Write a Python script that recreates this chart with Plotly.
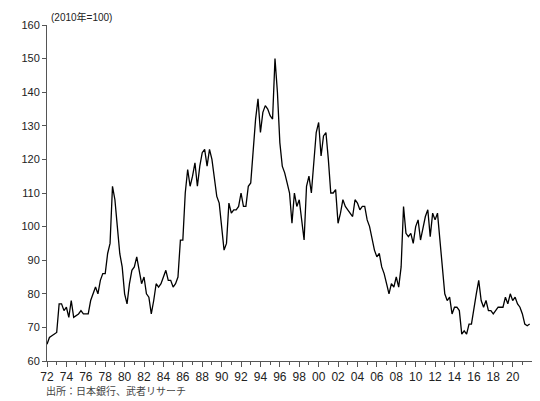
import plotly.graph_objects as go

years = list(range(1972, 2022))
values = [
    65, 67, 67.5, 68,
    68.5, 77, 77, 75,
    76, 73, 78, 73,
    73.5, 74, 75, 74,
    74, 74, 78, 80,
    82, 80, 84, 86,
    86, 92, 95, 112,
    108, 100, 92, 88,
    80, 77, 83, 87,
    88, 91, 87, 83,
    85, 80, 79, 74,
    78, 83, 82, 83,
    85, 87, 84, 84,
    82, 83, 85, 96,
    96, 110, 117, 112,
    115, 119, 112, 118,
    122, 123, 118, 123,
    120, 115, 109, 107,
    100, 93, 95, 107,
    104, 105, 105, 106,
    110, 106, 106, 112,
    113, 124, 132, 138,
    128, 134, 136, 135,
    133, 132, 150, 140,
    125, 118, 116, 113,
    110, 101, 110, 106,
    108, 102, 96, 112,
    115, 110, 120, 128,
    131, 121, 127, 128,
    120, 110, 110, 111,
    101, 104, 108, 106,
    105, 104, 103, 108,
    107, 105, 106, 106,
    102, 100, 96, 93,
    91, 92, 88, 86,
    83, 80, 83, 82,
    85, 82, 88, 106,
    98, 97, 98, 95,
    100, 102, 96, 100,
    103, 105, 97, 104,
    102, 104, 96, 88,
    80, 78, 79, 74,
    76, 76, 75, 68,
    69, 68, 71, 71,
    76, 80, 84, 78,
    76, 78, 75, 75,
    74, 75, 76, 76,
    76, 79, 77, 80,
    78, 79, 77, 76,
    74, 71, 70.5, 71,
]
dates = [y + q / 4 for y in years for q in range(4)]
tick_years = list(range(1972, 2021, 2))
tick_labels = [f"{y % 100:02d}" for y in tick_years]

fig = go.Figure(go.Scatter(x=dates, y=values, mode="lines",
                           line=dict(color="black", width=1.3)))

fig.update_layout(
    width=540, height=401, margin=dict(l=39, r=13, t=17, b=48),
    paper_bgcolor="white", plot_bgcolor="white", showlegend=False,
    font=dict(family="Liberation Sans, Noto Sans CJK JP", size=12, color="#222"),
)
fig.update_xaxes(range=[1972, 2022.3], tickvals=tick_years, ticktext=tick_labels,
                 showline=True, linecolor="#555", ticks="outside", ticklen=5,
                 tickcolor="#555", showgrid=False, zeroline=False,
                 minor=dict(dtick=1, ticks="outside", ticklen=3, tickcolor="#555"),
                 tickfont=dict(size=12))
fig.update_yaxes(range=[60, 160], dtick=10, showline=True, linecolor="#555",
                 ticks="outside", ticklen=4, tickcolor="#555", showgrid=False,
                 zeroline=False, tickfont=dict(size=11))
fig.add_annotation(text="(2010年=100)", xref="paper", yref="paper", x=0, y=1,
                   xanchor="left", yanchor="bottom", xshift=2, showarrow=False,
                   font=dict(size=10))
fig.add_annotation(text="出所：日本銀行、武者リサーチ", xref="paper", yref="paper",
                   x=0, y=0, xanchor="left", yanchor="top", yshift=-22, xshift=-3,
                   showarrow=False, font=dict(size=10, color="#444"))

fig.write_html("out.html")
